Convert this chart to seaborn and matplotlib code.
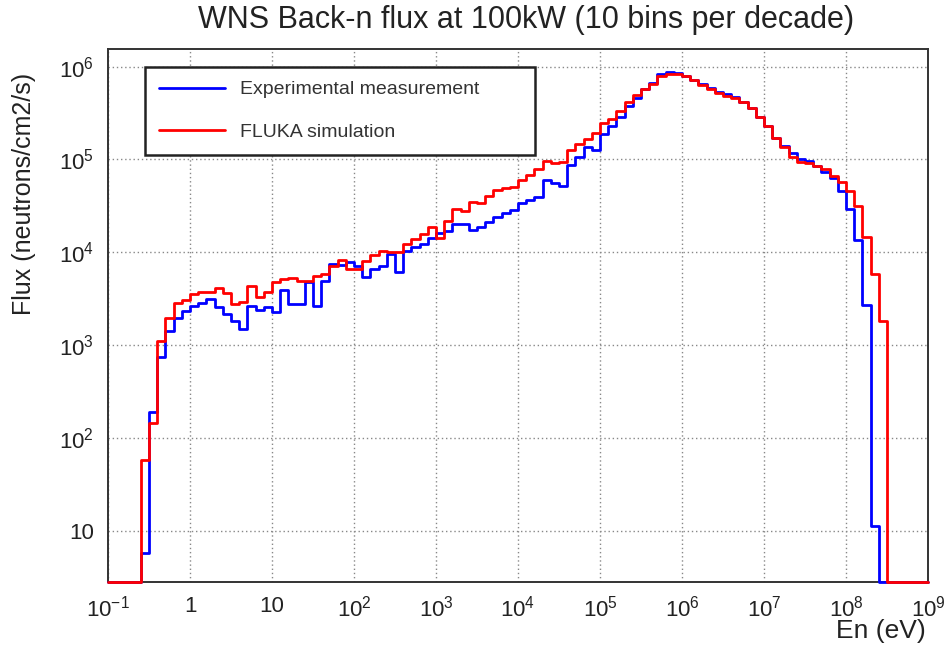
import numpy as np
import pandas as pd
import seaborn as sns
import matplotlib.pyplot as plt
from matplotlib.ticker import LogLocator, FuncFormatter, NullFormatter

# 10 bins per decade from 0.1 eV up to 1e9 eV (100 bins)
bin_edges = np.logspace(-1, 9, 101)

# bin contents (0 = empty bin)
experimental = [
    0, 0, 0, 0, 5.7, 190, 735, 1430, 1950, 2350,
    2650, 2810, 3130, 2550, 2160, 1830, 1490, 2650, 2380, 2580,
    2250, 3920, 2770, 2790, 4740, 2660, 4860, 7480, 7360, 7800,
    7180, 5470, 6600, 7180, 9590, 6080, 10400, 11300, 12300, 14300,
    16000, 16800, 19900, 20000, 17300, 18800, 21300, 24100, 26600, 28400,
    33600, 36500, 39600, 59900, 55100, 51600, 86900, 105000, 135000, 126000,
    190000, 229000, 284000, 375000, 460000, 578000, 668000, 828000, 871000, 865000,
    794000, 710000, 652000, 589000, 531000, 505000, 475000, 418000, 358000, 284000,
    229000, 170000, 139000, 116000, 102000, 96000, 84800, 73600, 62500, 46000,
    29000, 13600, 2720, 11.3, 0, 0, 0, 0, 0, 0,
]
fluka = [
    0, 0, 0, 0, 57, 143, 1100, 1950, 2810, 3050,
    3550, 3700, 3760, 4080, 3650, 2770, 2880, 4360, 3310, 3700,
    4730, 5140, 5300, 4950, 4850, 5600, 5830, 7060, 8270, 6600,
    6600, 8130, 9440, 10200, 10000, 10000, 12300, 13900, 15800, 18600,
    14200, 21900, 29300, 27500, 34800, 33600, 40300, 46700, 48700, 50700,
    59900, 67800, 78000, 96800, 90600, 94400, 126000, 148000, 168000, 194000,
    244000, 272000, 335000, 415000, 500000, 578000, 652000, 794000, 843000, 843000,
    794000, 710000, 630000, 578000, 518000, 487000, 455000, 418000, 358000, 284000,
    229000, 170000, 135000, 106000, 93400, 90600, 85500, 78000, 66200, 57500,
    46100, 31500, 14500, 5850, 1830, 0, 0, 0, 0, 0,
]

series_names = ['Experimental measurement', 'FLUKA simulation']
series_colors = {'Experimental measurement': '#0000ff', 'FLUKA simulation': '#ff0000'}

y_min, y_max = 2.79, 1.55e6

# Build a long table: left edge of each bin plus the final right edge (for steps-post)
frames = []
for name, vals in zip(series_names, [experimental, fluka]):
    v = np.clip(np.array(vals + [vals[-1]], dtype=float), y_min, None)
    frames.append(pd.DataFrame({'En': bin_edges, 'Flux': v, 'Series': name}))
data = pd.concat(frames, ignore_index=True)

sns.set_theme(style='white')
plt.rcParams['font.family'] = ['Liberation Sans', 'DejaVu Sans']
plt.rcParams['mathtext.default'] = 'regular'

fig = plt.figure(figsize=(9.5, 6.48), dpi=100)
ax = fig.add_axes([108 / 950, 66 / 648, 820 / 950, 533 / 648])

for name in series_names:
    sns.lineplot(data=data[data['Series'] == name], x='En', y='Flux',
                 color=series_colors[name], label=name, drawstyle='steps-post',
                 estimator=None, sort=False, linewidth=2.0, ax=ax)
    ax.lines[-1].set_clip_on(False)
    ax.lines[-1].set_zorder(3)

ax.set_xscale('log')
ax.set_yscale('log')
ax.set_xlim(0.1, 1e9)
ax.set_ylim(y_min, y_max)

# ROOT-like ticks: inward, bottom/left only
ax.xaxis.set_major_locator(LogLocator(base=10, numticks=20))
ax.xaxis.set_minor_locator(LogLocator(base=10, subs=np.arange(2, 10), numticks=200))
ax.yaxis.set_major_locator(LogLocator(base=10, numticks=20))
ax.yaxis.set_minor_locator(LogLocator(base=10, subs=np.arange(2, 10), numticks=200))


def log_label(v, pos):
    e = int(round(np.log10(v)))
    if e == 0:
        return '1'
    if e == 1:
        return '10'
    return r'$10^{%d}$' % e


ax.xaxis.set_major_formatter(FuncFormatter(log_label))
ax.yaxis.set_major_formatter(FuncFormatter(log_label))
ax.xaxis.set_minor_formatter(NullFormatter())
ax.yaxis.set_minor_formatter(NullFormatter())
ax.tick_params(axis='both', which='both', direction='in', colors='#222222',
               top=False, right=False, labelsize=16)
ax.tick_params(axis='x', which='major', length=12, width=1.0, pad=10)
ax.tick_params(axis='x', which='minor', length=6, width=1.0)
ax.tick_params(axis='y', which='major', length=14, width=1.0, pad=10)
ax.tick_params(axis='y', which='minor', length=7, width=1.0)

ax.grid(True, which='major', color='#888888', linestyle=(0, (1, 2)), linewidth=1.0)
for sp in ax.spines.values():
    sp.set_color('#333333')
    sp.set_linewidth(1.4)

ax.set_xlabel('')
ax.set_ylabel('')

leg = ax.legend(loc='upper left', bbox_to_anchor=(0.045, 0.797, 0.476, 0.169),
                mode='expand', fontsize=14, handlelength=3.4, handletextpad=0.8,
                labelspacing=1.3, borderpad=0.7, fancybox=False, framealpha=1,
                edgecolor='#222222', borderaxespad=0)
leg.get_frame().set_linewidth(1.8)
leg.set_zorder(5)
for t in leg.get_texts():
    t.set_color('#333333')

fig.text(526 / 950, 1 - 20 / 648, 'WNS Back-n flux at 100kW (10 bins per decade)',
         ha='center', va='center', fontsize=22, color='#222222')
fig.text(24 / 950, 1 - 73 / 648, 'Flux (neutrons/cm2/s)', rotation=90,
         ha='center', va='top', fontsize=18, color='#222222')
fig.text(926 / 950, 1 - 631 / 648, 'En (eV)', ha='right', va='center',
         fontsize=19, color='#222222')

fig.savefig('out.png', dpi=100)
